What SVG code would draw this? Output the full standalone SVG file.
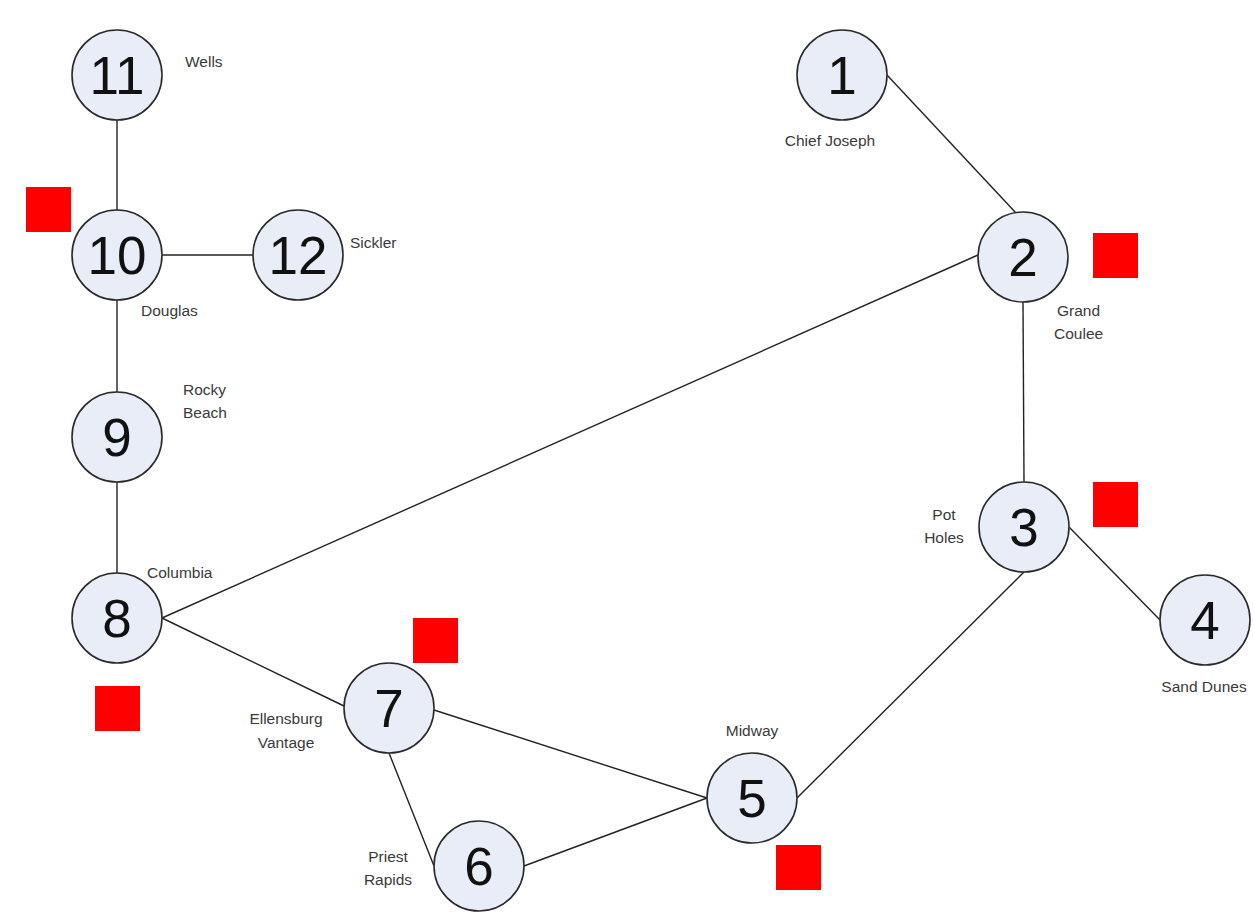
<svg xmlns="http://www.w3.org/2000/svg" width="1254" height="918" viewBox="0 0 1254 918">
  <style>
    .node circle { fill: #e8edf7; stroke: #2a2a2a; stroke-width: 1.6; }
    .num { font-family: "Liberation Sans", Arial, sans-serif; font-size: 53px; fill: #111; text-anchor: middle; }
    .lbl { font-family: "Liberation Sans", Arial, sans-serif; font-size: 15.5px; fill: #3a3a3a; }
    .mark { fill: #ff0000; }
    #connectors line { stroke: #222; stroke-width: 1.4; }
  </style>
  <rect width="1254" height="918" fill="#ffffff"/>

  <!-- connectors, attached to the circles' side points -->
  <g id="connectors">
    <line x1="117" y1="120" x2="117" y2="210"/>
    <line x1="162" y1="255" x2="253" y2="255"/>
    <line x1="117" y1="300" x2="117" y2="392"/>
    <line x1="117" y1="482" x2="117" y2="573"/>
    <line x1="162" y1="618" x2="978" y2="255"/>
    <line x1="162" y1="618" x2="344" y2="706"/>
    <line x1="434" y1="710" x2="707" y2="798"/>
    <line x1="389" y1="753" x2="434" y2="866"/>
    <line x1="524" y1="866" x2="707" y2="798"/>
    <line x1="797" y1="798" x2="1024" y2="572"/>
    <line x1="1069" y1="527" x2="1160" y2="620"/>
    <line x1="1024" y1="482" x2="1023" y2="302"/>
    <line x1="887" y1="75" x2="1016" y2="213"/>
  </g>

  <!-- stations -->
  <g id="node-1" class="node"><circle cx="842" cy="75" r="45"/><text class="num" x="842" y="94">1</text></g>
  <g id="node-2" class="node"><circle cx="1023" cy="257" r="45"/><text class="num" x="1023" y="276">2</text></g>
  <g id="node-3" class="node"><circle cx="1024" cy="527" r="45"/><text class="num" x="1024" y="546">3</text></g>
  <g id="node-4" class="node"><circle cx="1205" cy="620" r="45"/><text class="num" x="1205" y="639">4</text></g>
  <g id="node-5" class="node"><circle cx="752" cy="798" r="45"/><text class="num" x="752" y="817">5</text></g>
  <g id="node-6" class="node"><circle cx="479" cy="866" r="45"/><text class="num" x="479" y="885">6</text></g>
  <g id="node-7" class="node"><circle cx="389" cy="708" r="45"/><text class="num" x="389" y="727">7</text></g>
  <g id="node-8" class="node"><circle cx="117" cy="618" r="45"/><text class="num" x="117" y="637">8</text></g>
  <g id="node-9" class="node"><circle cx="117" cy="437" r="45"/><text class="num" x="117" y="456">9</text></g>
  <g id="node-10" class="node"><circle cx="117" cy="255" r="45"/><text class="num" x="117" y="274">10</text></g>
  <g id="node-11" class="node"><circle cx="117" cy="75" r="45"/><text class="num" x="117" y="94">11</text></g>
  <g id="node-12" class="node"><circle cx="298" cy="255" r="45"/><text class="num" x="298" y="274">12</text></g>

  <!-- station names -->
  <g id="labels">
    <text class="lbl" x="185" y="67">Wells</text>
    <text class="lbl" x="830" y="146" text-anchor="middle">Chief Joseph</text>
    <text class="lbl" x="350" y="248">Sickler</text>
    <text class="lbl" x="141" y="316">Douglas</text>
    <text class="lbl" x="183" y="395">Rocky</text>
    <text class="lbl" x="183" y="418">Beach</text>
    <text class="lbl" x="1057" y="316">Grand</text>
    <text class="lbl" x="1054" y="339">Coulee</text>
    <text class="lbl" x="944" y="520" text-anchor="middle">Pot</text>
    <text class="lbl" x="944" y="543" text-anchor="middle">Holes</text>
    <text class="lbl" x="147" y="578">Columbia</text>
    <text class="lbl" x="1204" y="692" text-anchor="middle">Sand Dunes</text>
    <text class="lbl" x="752" y="736" text-anchor="middle">Midway</text>
    <text class="lbl" x="286" y="724" text-anchor="middle">Ellensburg</text>
    <text class="lbl" x="286" y="748" text-anchor="middle">Vantage</text>
    <text class="lbl" x="388" y="862" text-anchor="middle">Priest</text>
    <text class="lbl" x="388" y="885" text-anchor="middle">Rapids</text>
  </g>

  <!-- red markers -->
  <g id="markers">
    <rect class="mark" x="26" y="187" width="45" height="45"/>
    <rect class="mark" x="1093" y="233" width="45" height="45"/>
    <rect class="mark" x="1093" y="482" width="45" height="45"/>
    <rect class="mark" x="413" y="618" width="45" height="45"/>
    <rect class="mark" x="95" y="686" width="45" height="45"/>
    <rect class="mark" x="776" y="845" width="45" height="45"/>
  </g>
</svg>
